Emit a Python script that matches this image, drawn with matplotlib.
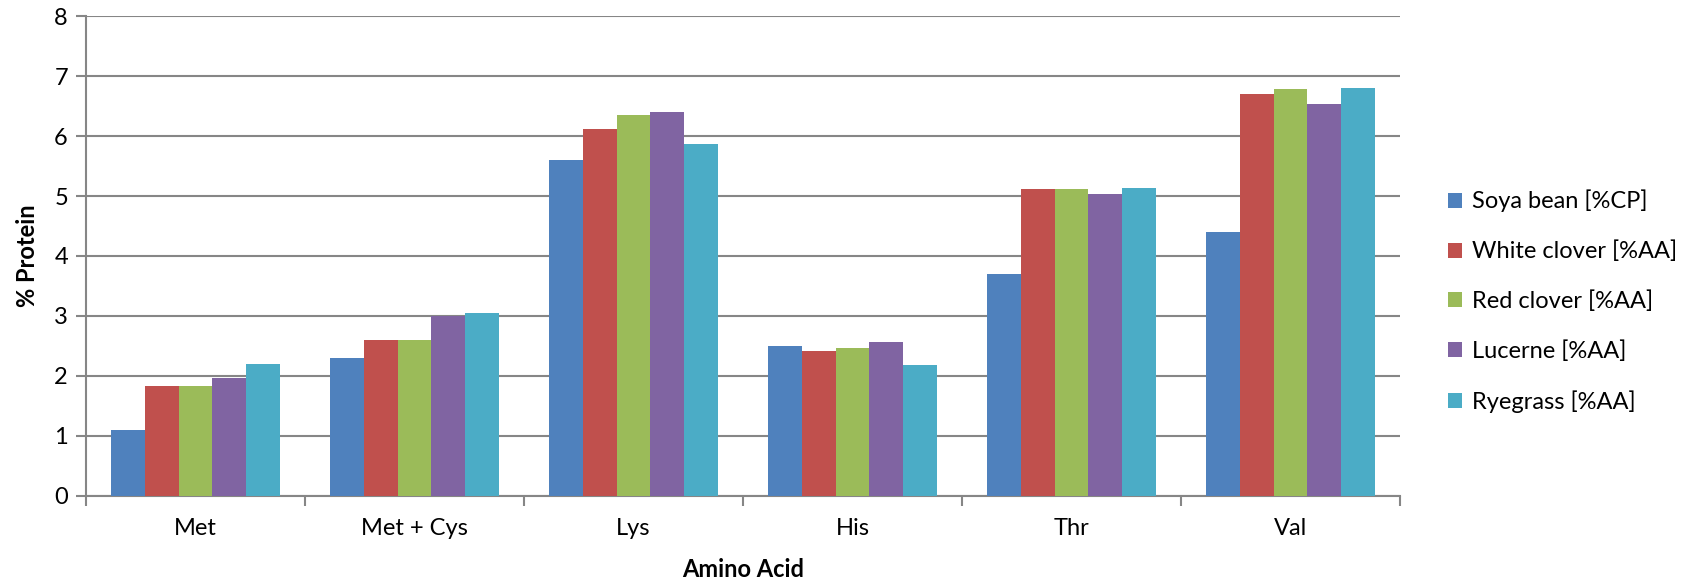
import numpy as np
import matplotlib
matplotlib.use("Agg")
import matplotlib.pyplot as plt

# data
categories = ["Met", "Met + Cys", "Lys", "His", "Thr", "Val"]
series_names = ["Soya bean [%CP]", "White clover [%AA]", "Red clover [%AA]",
                "Lucerne [%AA]", "Ryegrass [%AA]"]
soya = [1.10, 2.30, 5.60, 2.50, 3.70, 4.40]
white_clover = [1.83, 2.59, 6.12, 2.42, 5.12, 6.71]
red_clover = [1.83, 2.60, 6.35, 2.46, 5.11, 6.79]
lucerne = [1.97, 2.99, 6.40, 2.57, 5.04, 6.53]
ryegrass = [2.20, 3.04, 5.87, 2.18, 5.13, 6.80]
yticks = [0, 1, 2, 3, 4, 5, 6, 7, 8]

colors = ["#4F81BD", "#C0504D", "#9BBB59", "#8064A2", "#4BACC6"]
grid_col = "#868686"

plt.rcParams["font.family"] = ["Lato", "DejaVu Sans"]

fig = plt.figure(figsize=(16.88, 5.78), dpi=100)
ax = fig.add_axes([86 / 1688, 1 - 495.6 / 578, (1400 - 86) / 1688, (495.6 - 16.3) / 578])

x = np.arange(len(categories))
width = 0.154
all_series = [soya, white_clover, red_clover, lucerne, ryegrass]
for i, (vals, name) in enumerate(zip(all_series, series_names)):
    ax.bar(x + (i - 2) * width, vals, width, color=colors[i], label=name,
           edgecolor="none", zorder=3)

ax.set_xlim(-0.5, len(categories) - 0.5)
ax.set_ylim(0, 8)
ax.set_yticks(yticks)
ax.yaxis.grid(True, color=grid_col, linewidth=1.5, zorder=0)

# category labels at centres, tick marks at the boundaries
ax.set_xticks(x)
ax.set_xticklabels(categories, fontsize=17)
ax.tick_params(axis="x", length=0, pad=16)
ax.set_xticks(np.arange(len(categories) + 1) - 0.5, minor=True)
ax.tick_params(axis="x", which="minor", length=7, width=1.5, color=grid_col)
ax.tick_params(axis="y", length=7, width=1.5, color=grid_col, labelsize=17, pad=6)

for s in ["top", "right"]:
    ax.spines[s].set_visible(False)
for s in ["left", "bottom"]:
    ax.spines[s].set_color(grid_col)
    ax.spines[s].set_linewidth(1.5)

ax.set_ylabel("% Protein", fontsize=17, fontweight="bold", labelpad=11)
ax.set_xlabel("Amino Acid", fontsize=17, fontweight="bold", labelpad=14)

ax.legend(loc="center left", bbox_to_anchor=(1.02, 0.405), frameon=False,
          fontsize=17, handlelength=0.6, handleheight=0.6, handletextpad=0.45,
          labelspacing=1.2)

plt.savefig("out.png", dpi=100)
plt.close()
